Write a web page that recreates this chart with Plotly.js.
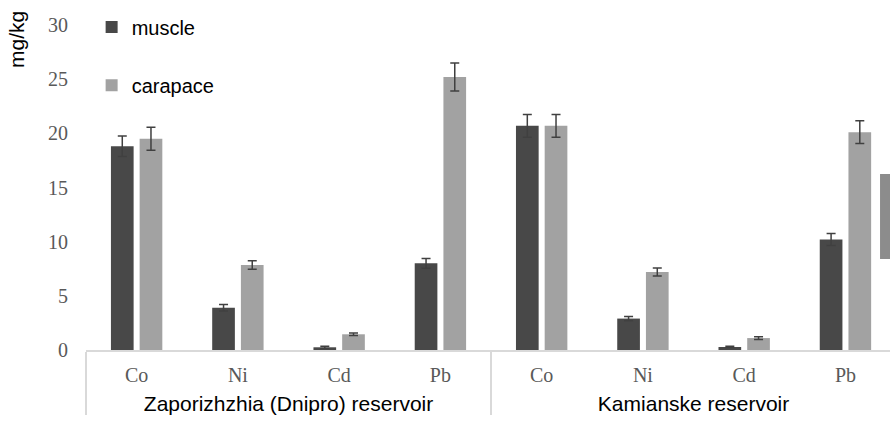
<!DOCTYPE html>
<html>
<head>
<meta charset="utf-8">
<script src="https://cdn.plot.ly/plotly-3.0.1.min.js"></script>
<style>html,body{margin:0;padding:0;overflow:hidden;background:#fff;}</style>
</head>
<body>
<div id="chart" style="width:890px;height:422px;"></div>
<script>
// ---- data ----
var reservoirs = ['Zaporizhzhia (Dnipro) reservoir', 'Kamianske reservoir'];
var elements = ['Co', 'Ni', 'Cd', 'Pb'];
var muscle = [18.8, 3.9, 0.25, 8.0, 20.7, 2.9, 0.28, 10.2];
var muscleErr = [0.95, 0.3, 0.1, 0.45, 1.05, 0.2, 0.06, 0.55];
var carapace = [19.5, 7.85, 1.45, 25.2, 20.7, 7.2, 1.1, 20.1];
var carapaceErr = [1.05, 0.4, 0.12, 1.3, 1.05, 0.38, 0.13, 1.05];
var yTicks = [0, 5, 10, 15, 20, 25, 30];

// build multicategory x (styled labels for the two levels)
var groupStyle = 'font-family:Liberation Sans;font-size:21px;color:#000000';
var catStyle = 'font-size:20px';
var xGroup = [], xCat = [];
reservoirs.forEach(function (r) {
  elements.forEach(function (e) {
    xGroup.push('<br><span style="' + groupStyle + '">' + r + '</span>');
    xCat.push('<span style="' + catStyle + '">' + e + '</span>');
  });
});

var errStyle = {color: '#404040', thickness: 1.5, width: 4.5};

var traces = [
  {
    type: 'bar', name: 'muscle', x: [xGroup, xCat], y: muscle,
    marker: {color: '#484848'},
    error_y: Object.assign({type: 'data', array: muscleErr, visible: true}, errStyle),
    legend: 'legend'
  },
  {
    type: 'bar', name: 'carapace', x: [xGroup, xCat], y: carapace,
    marker: {color: '#a2a2a2'},
    error_y: Object.assign({type: 'data', array: carapaceErr, visible: true}, errStyle),
    legend: 'legend2'
  }
];

var legendFont = {family: 'Liberation Sans', size: 20, color: '#000'};

var layout = {
  width: 890, height: 422,
  margin: {l: 86, r: 0, t: 25, b: 72, autoexpand: false},
  paper_bgcolor: '#ffffff', plot_bgcolor: '#ffffff',
  barmode: 'group', bargap: 0.433, bargroupgap: 0.21,
  showlegend: true,
  legend: {x: 0.007, y: 0.994, xanchor: 'left', yanchor: 'middle',
           font: legendFont, bgcolor: 'rgba(0,0,0,0)'},
  legend2: {x: 0.007, y: 0.815, xanchor: 'left', yanchor: 'middle',
            font: legendFont, bgcolor: 'rgba(0,0,0,0)'},
  xaxis: {
    type: 'multicategory', automargin: false,
    range: [-0.5, 7.44],
    showline: true, linecolor: '#d9d9d9', linewidth: 1.5,
    showdividers: true, dividercolor: '#d9d9d9', dividerwidth: 1.5,
    ticklabelstandoff: 14,
    tickfont: {family: 'Liberation Serif', size: 14, color: '#595959'},
    showgrid: false, zeroline: false, ticks: ''
  },
  yaxis: {
    automargin: false,
    range: [0, 30], tickvals: yTicks, ticktext: yTicks.map(String),
    showgrid: false, zeroline: false, showline: false, ticks: '',
    ticklabelstandoff: 17,
    tickfont: {family: 'Liberation Serif', size: 20, color: '#595959'}
  },
  annotations: [{
    text: 'mg/kg', xref: 'paper', yref: 'paper', x: -0.0858, y: 0.954,
    textangle: -90, showarrow: false, xanchor: 'center', yanchor: 'middle',
    font: {family: 'Liberation Sans', size: 21, color: '#000'}
  }],
  shapes: [{
    type: 'rect', xref: 'paper', yref: 'paper', x0: 0.9876, x1: 1.0, y0: 0.28, y1: 0.5415,
    fillcolor: '#8c8c8c', line: {width: 0}, layer: 'above'
  }]
};

Plotly.newPlot('chart', traces, layout, {displayModeBar: false, staticPlot: true});
</script>
</body>
</html>
